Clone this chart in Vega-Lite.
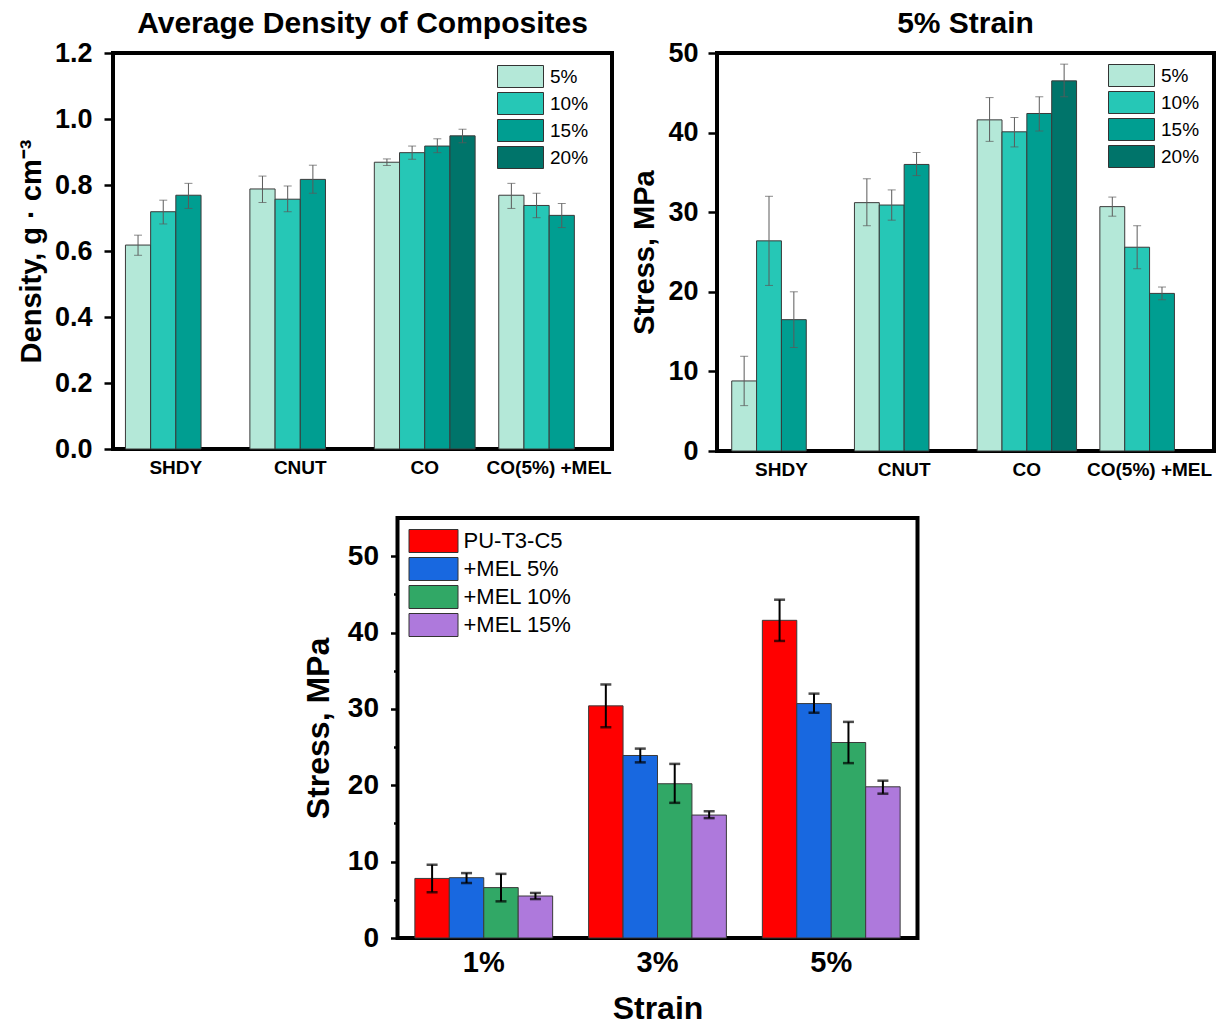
{
  "$schema": "https://vega.github.io/schema/vega-lite/v6.json",
  "padding": {"left": 15, "top": 7, "right": 5, "bottom": 0},
  "background": "white",
  "config": {
    "font": "Liberation Sans",
    "view": {"stroke": "black", "strokeWidth": 4},
    "axis": {"domain": false, "grid": false, "labelFont": "Liberation Sans", "titleFont": "Liberation Sans", "labelFontWeight": "bold", "titleFontWeight": "bold", "labelColor": "black", "titleColor": "black", "tickColor": "black", "tickWidth": 2.5},
    "title": {"font": "Liberation Sans", "fontWeight": "bold", "fontSize": 30, "color": "black"},
    "legend": {"title": null, "orient": "none", "symbolStrokeColor": "#333333", "symbolStrokeWidth": 1, "symbolOpacity": 1, "labelFont": "Liberation Sans", "labelColor": "black", "padding": 0, "symbolSize": 100}
  },
  "datasets": {
    "density": [
      {"g": "SHDY", "c": "5%", "v": 0.618, "lo": 0.587, "hi": 0.648},
      {"g": "SHDY", "c": "10%", "v": 0.719, "lo": 0.682, "hi": 0.754},
      {"g": "SHDY", "c": "15%", "v": 0.769, "lo": 0.729, "hi": 0.805},
      {"g": "CNUT", "c": "5%", "v": 0.788, "lo": 0.747, "hi": 0.827},
      {"g": "CNUT", "c": "10%", "v": 0.757, "lo": 0.719, "hi": 0.797},
      {"g": "CNUT", "c": "15%", "v": 0.817, "lo": 0.775, "hi": 0.86},
      {"g": "CO", "c": "5%", "v": 0.869, "lo": 0.859, "hi": 0.879},
      {"g": "CO", "c": "10%", "v": 0.898, "lo": 0.878, "hi": 0.918},
      {"g": "CO", "c": "15%", "v": 0.918, "lo": 0.898, "hi": 0.94},
      {"g": "CO", "c": "20%", "v": 0.949, "lo": 0.928, "hi": 0.969},
      {"g": "CO(5%) +MEL", "c": "5%", "v": 0.769, "lo": 0.729, "hi": 0.805},
      {"g": "CO(5%) +MEL", "c": "10%", "v": 0.738, "lo": 0.701, "hi": 0.775},
      {"g": "CO(5%) +MEL", "c": "15%", "v": 0.708, "lo": 0.671, "hi": 0.744}
    ],
    "strain5": [
      {"g": "SHDY", "c": "5%", "v": 8.8, "lo": 5.7, "hi": 11.9},
      {"g": "SHDY", "c": "10%", "v": 26.4, "lo": 20.8, "hi": 32.0},
      {"g": "SHDY", "c": "15%", "v": 16.5, "lo": 13.0, "hi": 20.0},
      {"g": "CNUT", "c": "5%", "v": 31.2, "lo": 28.3, "hi": 34.2},
      {"g": "CNUT", "c": "10%", "v": 30.9, "lo": 29.0, "hi": 32.8},
      {"g": "CNUT", "c": "15%", "v": 36.0, "lo": 34.6, "hi": 37.5},
      {"g": "CO", "c": "5%", "v": 41.6, "lo": 38.9, "hi": 44.4},
      {"g": "CO", "c": "10%", "v": 40.1, "lo": 38.2, "hi": 41.9},
      {"g": "CO", "c": "15%", "v": 42.4, "lo": 40.2, "hi": 44.5},
      {"g": "CO", "c": "20%", "v": 46.5, "lo": 44.5, "hi": 48.6},
      {"g": "CO(5%) +MEL", "c": "5%", "v": 30.7, "lo": 29.5, "hi": 31.9},
      {"g": "CO(5%) +MEL", "c": "10%", "v": 25.6, "lo": 22.9, "hi": 28.3},
      {"g": "CO(5%) +MEL", "c": "15%", "v": 19.8, "lo": 19.0, "hi": 20.6}
    ],
    "strain": [
      {"s": "1%", "c": "PU-T3-C5", "v": 7.8, "lo": 6.0, "hi": 9.6},
      {"s": "1%", "c": "+MEL 5%", "v": 7.9, "lo": 7.2, "hi": 8.5},
      {"s": "1%", "c": "+MEL 10%", "v": 6.6, "lo": 4.8, "hi": 8.4},
      {"s": "1%", "c": "+MEL 15%", "v": 5.5, "lo": 5.1, "hi": 5.9},
      {"s": "3%", "c": "PU-T3-C5", "v": 30.4, "lo": 27.6, "hi": 33.2},
      {"s": "3%", "c": "+MEL 5%", "v": 23.9, "lo": 23.0, "hi": 24.8},
      {"s": "3%", "c": "+MEL 10%", "v": 20.2, "lo": 17.7, "hi": 22.8},
      {"s": "3%", "c": "+MEL 15%", "v": 16.1, "lo": 15.7, "hi": 16.6},
      {"s": "5%", "c": "PU-T3-C5", "v": 41.6, "lo": 38.9, "hi": 44.3},
      {"s": "5%", "c": "+MEL 5%", "v": 30.7, "lo": 29.5, "hi": 32.0},
      {"s": "5%", "c": "+MEL 10%", "v": 25.6, "lo": 22.9, "hi": 28.3},
      {"s": "5%", "c": "+MEL 15%", "v": 19.8, "lo": 18.9, "hi": 20.6}
    ],
    "empty": []
  },
  "vconcat": [
    {
      "hconcat": [
        {
          "title": {"text": "Average Density of Composites", "offset": 0},
          "width": 499,
          "height": 396,
          "data": {"name": "density"},
          "encoding": {
            "x": {"field": "g", "type": "nominal", "sort": ["SHDY", "CNUT", "CO", "CO(5%) +MEL"], "scale": {"paddingInner": 0.19, "paddingOuter": 0.1}, "axis": {"title": null, "labelAngle": 0, "ticks": false, "labelFontSize": 19, "labelPadding": 9}},
            "xOffset": {"field": "c", "type": "nominal", "sort": ["5%", "10%", "15%", "20%"], "scale": {"domain": ["5%", "10%", "15%", "20%"], "paddingInner": 0, "paddingOuter": 0}}
          },
          "layer": [
            {
              "mark": {"type": "bar", "stroke": "#3a3a3a", "strokeWidth": 1},
              "encoding": {
                "y": {"field": "v", "type": "quantitative", "title": "Density, g · cm⁻³", "scale": {"domain": [0, 1.2]}, "axis": {"titleFontSize": 29, "titlePadding": 8, "labelFontSize": 27, "labelPadding": 12, "values": [0, 0.1, 0.2, 0.3, 0.4, 0.5, 0.6, 0.7, 0.8, 0.9, 1.0, 1.1, 1.2], "labelExpr": "round(datum.value*10)%2==0 ? format(datum.value, '.1f') : ''", "tickSize": {"condition": {"test": "round(datum.value*10)%2==1", "value": 5}, "value": 9}}},
                "color": {"field": "c", "type": "nominal", "sort": ["5%", "10%", "15%", "20%"], "scale": {"domain": ["5%", "10%", "15%", "20%"], "range": ["#b4e8d8", "#26c7b6", "#009e91", "#00746a"]}, "legend": {"legendX": 398, "legendY": 14, "symbolType": "M-4.6,-2.2H4.6V2.2H-4.6Z", "labelFontSize": 19, "labelOffset": 20, "rowPadding": 0}}
              }
            },
            {"mark": {"type": "rule", "color": "#5a5a5a", "strokeWidth": 1}, "encoding": {"y": {"field": "lo", "type": "quantitative", "title": "Density, g · cm⁻³"}, "y2": {"field": "hi"}}},
            {"mark": {"type": "tick", "color": "#5a5a5a", "thickness": 1, "size": 8}, "encoding": {"y": {"field": "lo", "type": "quantitative", "title": "Density, g · cm⁻³"}}},
            {"mark": {"type": "tick", "color": "#5a5a5a", "thickness": 1, "size": 8}, "encoding": {"y": {"field": "hi", "type": "quantitative", "title": "Density, g · cm⁻³"}}}
          ]
        },
        {
          "title": {"text": "5% Strain", "offset": 0},
          "width": 497,
          "height": 398,
          "data": {"name": "strain5"},
          "encoding": {
            "x": {"field": "g", "type": "nominal", "sort": ["SHDY", "CNUT", "CO", "CO(5%) +MEL"], "scale": {"paddingInner": 0.19, "paddingOuter": 0.12}, "axis": {"title": null, "labelAngle": 0, "ticks": false, "labelFontSize": 19, "labelPadding": 9}},
            "xOffset": {"field": "c", "type": "nominal", "sort": ["5%", "10%", "15%", "20%"], "scale": {"domain": ["5%", "10%", "15%", "20%"], "paddingInner": 0, "paddingOuter": 0}}
          },
          "layer": [
            {
              "mark": {"type": "bar", "stroke": "#3a3a3a", "strokeWidth": 1},
              "encoding": {
                "y": {"field": "v", "type": "quantitative", "title": "Stress, MPa", "scale": {"domain": [0, 50]}, "axis": {"titleFontSize": 29, "titlePadding": 8, "labelFontSize": 27, "labelPadding": 10, "values": [0, 5, 10, 15, 20, 25, 30, 35, 40, 45, 50], "labelExpr": "datum.value % 10 == 0 ? format(datum.value, 'd') : ''", "tickSize": {"condition": {"test": "datum.value % 10 != 0", "value": 5}, "value": 9}}},
                "color": {"field": "c", "type": "nominal", "sort": ["5%", "10%", "15%", "20%"], "scale": {"domain": ["5%", "10%", "15%", "20%"], "range": ["#b4e8d8", "#26c7b6", "#009e91", "#00746a"]}, "legend": {"legendX": 405, "legendY": 13, "symbolType": "M-4.6,-2.2H4.6V2.2H-4.6Z", "labelFontSize": 19, "labelOffset": 20, "rowPadding": 0}}
              }
            },
            {"mark": {"type": "rule", "color": "#5a5a5a", "strokeWidth": 1}, "encoding": {"y": {"field": "lo", "type": "quantitative", "title": "Stress, MPa"}, "y2": {"field": "hi"}}},
            {"mark": {"type": "tick", "color": "#5a5a5a", "thickness": 1, "size": 8}, "encoding": {"y": {"field": "lo", "type": "quantitative", "title": "Stress, MPa"}}},
            {"mark": {"type": "tick", "color": "#5a5a5a", "thickness": 1, "size": 8}, "encoding": {"y": {"field": "hi", "type": "quantitative", "title": "Stress, MPa"}}}
          ]
        }
      ],
      "spacing": 14,
      "resolve": {"scale": {"color": "independent", "x": "independent", "y": "independent", "xOffset": "independent"}, "legend": {"color": "independent"}}
    },
    {
      "hconcat": [
        {
          "width": 520,
          "height": 420,
          "data": {"name": "strain"},
          "encoding": {
            "x": {"field": "s", "type": "nominal", "sort": ["1%", "3%", "5%"], "scale": {"paddingInner": 0.207, "paddingOuter": 0.1}, "axis": {"title": "Strain", "titleFontSize": 32, "titlePadding": 16, "labelAngle": 0, "ticks": false, "labelFontSize": 29, "labelPadding": 10}},
            "xOffset": {"field": "c", "type": "nominal", "sort": ["PU-T3-C5", "+MEL 5%", "+MEL 10%", "+MEL 15%"], "scale": {"paddingInner": 0, "paddingOuter": 0}}
          },
          "layer": [
            {
              "mark": {"type": "bar", "stroke": "#3a3a3a", "strokeWidth": 1},
              "encoding": {
                "y": {"field": "v", "type": "quantitative", "title": "Stress, MPa", "scale": {"domain": [0, 55]}, "axis": {"titleFontSize": 32, "titlePadding": 12, "labelFontSize": 28, "labelPadding": 12, "values": [0, 5, 10, 15, 20, 25, 30, 35, 40, 45, 50], "labelExpr": "datum.value % 10 == 0 ? format(datum.value, 'd') : ''", "tickSize": {"condition": {"test": "datum.value % 10 != 0", "value": 4}, "value": 7}}},
                "color": {"field": "c", "type": "nominal", "sort": ["PU-T3-C5", "+MEL 5%", "+MEL 10%", "+MEL 15%"], "scale": {"domain": ["PU-T3-C5", "+MEL 5%", "+MEL 10%", "+MEL 15%"], "range": ["#ff0000", "#1868e0", "#31a866", "#ae79dc"]}, "legend": {"legendX": 25, "legendY": 12, "symbolType": "M-4.9,-2.3H4.9V2.3H-4.9Z", "labelFontSize": 22, "labelOffset": 19, "rowPadding": 0}}
              }
            },
            {"mark": {"type": "rule", "color": "black", "strokeWidth": 2}, "encoding": {"y": {"field": "lo", "type": "quantitative", "title": "Stress, MPa"}, "y2": {"field": "hi"}}},
            {"mark": {"type": "tick", "color": "black", "thickness": 2.5, "size": 11}, "encoding": {"y": {"field": "lo", "type": "quantitative", "title": "Stress, MPa"}}},
            {"mark": {"type": "tick", "color": "black", "thickness": 2.5, "size": 11}, "encoding": {"y": {"field": "hi", "type": "quantitative", "title": "Stress, MPa"}}}
          ]
        },
        {
          "width": 12,
          "height": 10,
          "view": {"stroke": null},
          "data": {"name": "empty"},
          "mark": {"type": "rule"},
          "encoding": {}
        }
      ],
      "spacing": 0,
      "resolve": {"scale": {"color": "independent", "x": "independent", "y": "independent", "xOffset": "independent"}, "legend": {"color": "independent"}}
    }
  ],
  "spacing": 35,
  "center": true,
  "resolve": {"scale": {"color": "independent", "x": "independent", "y": "independent", "xOffset": "independent"}, "legend": {"color": "independent"}}
}
